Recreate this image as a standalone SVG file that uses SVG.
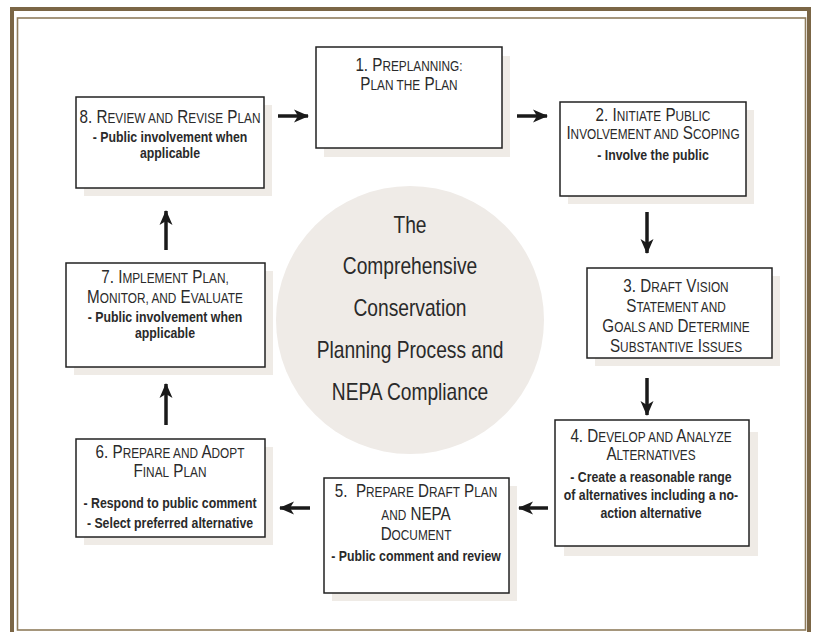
<svg xmlns="http://www.w3.org/2000/svg" width="814" height="632" viewBox="0 0 814 632">
<defs>
<style>
.t{font-family:"Liberation Sans",Arial,sans-serif;font-size:18px;fill:#2a2a2a;text-anchor:middle}
.s{font-size:14px}
.b{font-family:"Liberation Sans",Arial,sans-serif;font-size:14px;font-weight:bold;fill:#2a2a2a;text-anchor:middle}
.c{font-family:"Liberation Sans",Arial,sans-serif;font-size:24px;fill:#2a2a2a;text-anchor:middle}
.box{fill:#fff;stroke:#222;stroke-width:1.5}
.sh{fill:#efebe6}
.arr{stroke:#1a1a1a;stroke-width:3.5;fill:none;marker-end:url(#ah)}
</style>
<marker id="ah" markerUnits="userSpaceOnUse" markerWidth="20" markerHeight="16" viewBox="-16 -8 18 16" refX="0" refY="0" orient="auto">
<path d="M1,0 L-14,-6.5 L-10,0 L-14,6.5 Z" fill="#1a1a1a"/>
</marker>
</defs>
<rect width="814" height="632" fill="#fff"/>
<g id="frame">
<rect x="12" y="9" width="797" height="640" fill="none" stroke="#7b6646" stroke-width="4"/>
<rect x="17.5" y="18" width="788" height="612" fill="none" stroke="#8f7c5c" stroke-width="1.6"/>
</g>
<g id="center">
<circle cx="410" cy="320" r="134" fill="#efebe7"/>
<text class="c" transform="translate(410,233) scale(0.8,1)">The</text>
<text class="c" transform="translate(410,274) scale(0.8,1)">Comprehensive</text>
<text class="c" transform="translate(410,316) scale(0.8,1)">Conservation</text>
<text class="c" transform="translate(410,358) scale(0.8,1)">Planning Process and</text>
<text class="c" transform="translate(410,400) scale(0.8,1)">NEPA Compliance</text>
</g>
<g id="n1">
<rect class="sh" x="324" y="56" width="186" height="101"/>
<rect class="box" x="316" y="47" width="186" height="101"/>
<text class="t" transform="translate(409,71) scale(0.845,1)">1. P<tspan class="s">REPLANNING:</tspan></text>
<text class="t" transform="translate(409,90) scale(0.845,1)">P<tspan class="s">LAN THE</tspan> P<tspan class="s">LAN</tspan></text>
</g>
<g id="n2">
<rect class="sh" x="568" y="110" width="186" height="94"/>
<rect class="box" x="560" y="102" width="186" height="94"/>
<text class="t" transform="translate(653,121) scale(0.845,1)">2. I<tspan class="s">NITIATE</tspan> P<tspan class="s">UBLIC</tspan></text>
<text class="t" transform="translate(653,139) scale(0.845,1)">I<tspan class="s">NVOLVEMENT AND</tspan> S<tspan class="s">COPING</tspan></text>
<text class="b" transform="translate(653,160) scale(0.88,1)">- Involve the public</text>
</g>
<g id="n3">
<rect class="sh" x="595" y="276" width="185" height="90"/>
<rect class="box" x="587" y="268" width="185" height="90"/>
<text class="t" transform="translate(676,292) scale(0.845,1)">3. D<tspan class="s">RAFT</tspan> V<tspan class="s">ISION</tspan></text>
<text class="t" transform="translate(676,312) scale(0.845,1)">S<tspan class="s">TATEMENT AND</tspan></text>
<text class="t" transform="translate(676,332) scale(0.845,1)">G<tspan class="s">OALS AND</tspan> D<tspan class="s">ETERMINE</tspan></text>
<text class="t" transform="translate(676,352) scale(0.845,1)">S<tspan class="s">UBSTANTIVE</tspan> I<tspan class="s">SSUES</tspan></text>
</g>
<g id="n4">
<rect class="sh" x="564" y="432" width="194" height="124"/>
<rect class="box" x="555" y="420" width="194" height="126"/>
<text class="t" transform="translate(651,442) scale(0.845,1)">4. D<tspan class="s">EVELOP AND</tspan> A<tspan class="s">NALYZE</tspan></text>
<text class="t" transform="translate(651,460) scale(0.845,1)">A<tspan class="s">LTERNATIVES</tspan></text>
<text class="b" transform="translate(651,482) scale(0.88,1)">- Create a reasonable range</text>
<text class="b" transform="translate(651,500) scale(0.88,1)">of alternatives including a no-</text>
<text class="b" transform="translate(651,518) scale(0.88,1)">action alternative</text>
</g>
<g id="n5">
<rect class="sh" x="332" y="486" width="185" height="115"/>
<rect class="box" x="324" y="478" width="185" height="115"/>
<text class="t" transform="translate(416,497) scale(0.845,1)" xml:space="preserve">5.  P<tspan class="s">REPARE</tspan> D<tspan class="s">RAFT</tspan> P<tspan class="s">LAN</tspan></text>
<text class="t" transform="translate(416,520) scale(0.845,1)"><tspan class="s">AND</tspan> NEPA</text>
<text class="t" transform="translate(416,540) scale(0.845,1)">D<tspan class="s">OCUMENT</tspan></text>
<text class="b" transform="translate(416,561) scale(0.88,1)">- Public comment and review</text>
</g>
<g id="n6">
<rect class="sh" x="84" y="447" width="189" height="98"/>
<rect class="box" x="76" y="439" width="189" height="98"/>
<text class="t" transform="translate(170,458) scale(0.845,1)">6. P<tspan class="s">REPARE AND</tspan> A<tspan class="s">DOPT</tspan></text>
<text class="t" transform="translate(170,477) scale(0.845,1)">F<tspan class="s">INAL</tspan> P<tspan class="s">LAN</tspan></text>
<text class="b" transform="translate(170,508) scale(0.88,1)">- Respond to public comment</text>
<text class="b" transform="translate(170,528) scale(0.88,1)">- Select preferred alternative</text>
</g>
<g id="n7">
<rect class="sh" x="74" y="271" width="199" height="104"/>
<rect class="box" x="66" y="263" width="199" height="104"/>
<text class="t" transform="translate(165,283) scale(0.845,1)">7. I<tspan class="s">MPLEMENT</tspan> P<tspan class="s">LAN,</tspan></text>
<text class="t" transform="translate(165,303) scale(0.845,1)">M<tspan class="s">ONITOR, AND</tspan> E<tspan class="s">VALUATE</tspan></text>
<text class="b" transform="translate(165,322) scale(0.88,1)">- Public involvement when</text>
<text class="b" transform="translate(165,338) scale(0.88,1)">applicable</text>
</g>
<g id="n8">
<rect class="sh" x="84" y="105" width="188" height="91"/>
<rect class="box" x="76" y="97" width="188" height="91"/>
<text class="t" transform="translate(170,123) scale(0.845,1)">8. R<tspan class="s">EVIEW AND</tspan> R<tspan class="s">EVISE</tspan> P<tspan class="s">LAN</tspan></text>
<text class="b" transform="translate(170,142) scale(0.88,1)">- Public involvement when</text>
<text class="b" transform="translate(170,158) scale(0.88,1)">applicable</text>
</g>
<g id="connectors">
<line class="arr" x1="278" y1="116" x2="308" y2="116"/>
<line class="arr" x1="517" y1="116" x2="547" y2="116"/>
<line class="arr" x1="647" y1="212" x2="647" y2="253"/>
<line class="arr" x1="647" y1="378" x2="647" y2="415"/>
<line class="arr" x1="548" y1="508" x2="519" y2="508"/>
<line class="arr" x1="310" y1="508" x2="280" y2="508"/>
<line class="arr" x1="166" y1="425" x2="166" y2="384"/>
<line class="arr" x1="166" y1="250" x2="166" y2="211"/>
</g>
</svg>
